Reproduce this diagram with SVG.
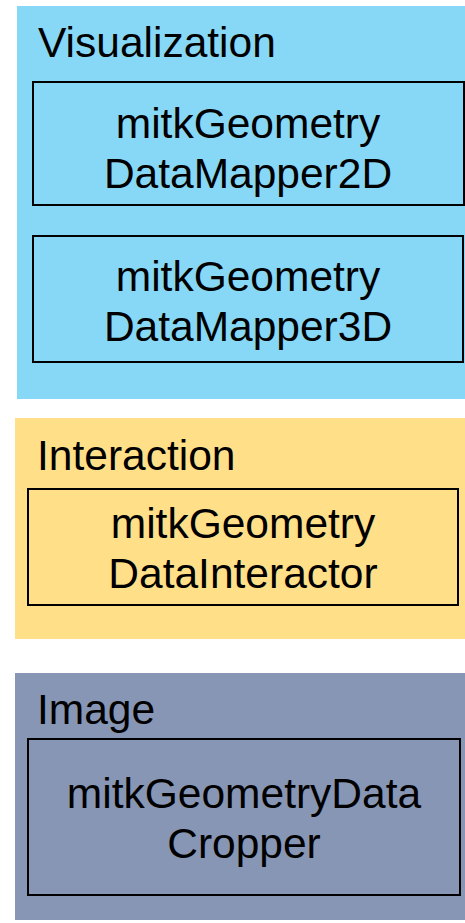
<svg xmlns="http://www.w3.org/2000/svg" width="465" height="923" viewBox="0 0 465 923">
<style>
text{font-family:"Liberation Sans",Arial,sans-serif;font-size:42.5px;fill:#000}
.c{text-anchor:middle}
.box{stroke:#000;stroke-width:2}
</style>
<rect width="465" height="923" fill="#fff"/>
<g id="visualization">
<rect x="17" y="6" width="448" height="393" fill="#87D8F6"/>
<text x="38" y="57">Visualization</text>
</g>
<g id="mapper2d">
<rect class="box" x="33" y="82" width="431" height="123" fill="#87D8F6"/>
<text class="c" x="248" y="138">mitkGeometry</text>
<text class="c" x="248" y="188">DataMapper2D</text>
</g>
<g id="mapper3d">
<rect class="box" x="33" y="236" width="430" height="126" fill="#87D8F6"/>
<text class="c" x="248" y="291">mitkGeometry</text>
<text class="c" x="248" y="341">DataMapper3D</text>
</g>
<g id="interaction">
<rect x="15" y="418" width="450" height="221" fill="#FFDF88"/>
<text x="37" y="470">Interaction</text>
</g>
<g id="interactor">
<rect class="box" x="28" y="489" width="430" height="116" fill="#FFDF88"/>
<text class="c" x="243" y="538">mitkGeometry</text>
<text class="c" x="243" y="588">DataInteractor</text>
</g>
<g id="image">
<rect x="15" y="673" width="450" height="247" fill="#8796B4"/>
<text x="37" y="724">Image</text>
</g>
<g id="cropper">
<rect class="box" x="28" y="739" width="432" height="156" fill="#8796B4"/>
<text class="c" x="244" y="808">mitkGeometryData</text>
<text class="c" x="244" y="858">Cropper</text>
</g>
<g id="connectors"></g>
</svg>
